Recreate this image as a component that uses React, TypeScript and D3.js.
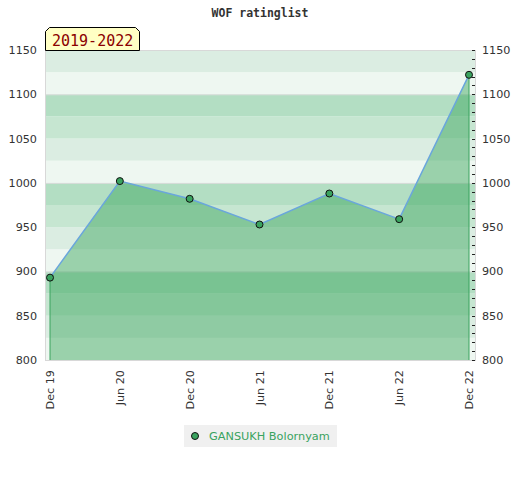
import * as d3 from "d3";
import * as React from "react";

const title = "WOF ratinglist";
const periodLabel = "2019-2022";
const playerName = "GANSUKH Bolornyam";

const periods = ["Dec 19", "Jun 20", "Dec 20", "Jun 21", "Dec 21", "Jun 22", "Dec 22"];
const ratings = [893, 1002, 982, 953, 988, 959, 1122];

const yTicks = [800, 850, 900, 950, 1000, 1050, 1100, 1150];
const bandStarts = d3.range(800, 1150, 25);
const minorTicks = d3.range(800, 1151, 10);

const bandColors = ["#eef7f1", "#dbede2", "#c6e6d1", "#b3dec3"];

const width = 520;
const height = 480;
const plotLeft = 45;
const plotRight = 476;
const plotTop = 50;
const plotBottom = 360;

const green = "#3aa35f";
const lineBlue = "#6aa6dc";
const labelFont = "'DejaVu Sans', sans-serif";
const monoFont = "'DejaVu Sans Mono', monospace";

export default function App() {
  const x = d3.scalePoint<string>().domain(periods).range([50, 469]);
  const y = d3.scaleLinear().domain([800, 1150]).range([plotBottom, plotTop]);

  const pts = periods.map((p, i) => ({ p, v: ratings[i] }));

  const area = d3
    .area<{ p: string; v: number }>()
    .x((d) => x(d.p)!)
    .y0(y(800))
    .y1((d) => y(d.v));
  const line = d3
    .line<{ p: string; v: number }>()
    .x((d) => x(d.p)!)
    .y((d) => y(d.v));

  const first = pts[0];
  const last = pts[pts.length - 1];

  return (
    <svg
      width={width}
      height={height}
      style={{ position: "absolute", left: 0, top: 0, background: "#fff" }}
    >
      {/* title */}
      <text
        x={260}
        y={17}
        textAnchor="middle"
        fontFamily={monoFont}
        fontWeight="bold"
        fontSize={11.5}
        fill="#333"
      >
        {title}
      </text>

      {/* background bands */}
      {bandStarts.map((b) => (
        <rect
          key={b}
          x={plotLeft}
          width={plotRight - plotLeft}
          y={y(b + 25)}
          height={y(b) - y(b + 25)}
          fill={bandColors[(b % 100) / 25]}
        />
      ))}
      {yTicks
        .filter((t) => t % 100 === 0 && t > 800 && t < 1150)
        .map((t) => (
          <line
            key={t}
            x1={plotLeft}
            x2={plotRight}
            y1={y(t) + 0.5}
            y2={y(t) + 0.5}
            stroke="#dcdcdc"
          />
        ))}
      <rect
        x={plotLeft + 0.5}
        y={plotTop + 0.5}
        width={plotRight - plotLeft - 1}
        height={plotBottom - plotTop}
        fill="none"
        stroke="#d8d8d8"
      />

      {/* filled area */}
      <path d={area(pts)!} fill="rgb(52,162,86)" fillOpacity={0.45} />

      {/* drop lines */}
      <line x1={x(first.p)} x2={x(first.p)} y1={y(first.v)} y2={y(800)} stroke={green} />
      <line x1={x(last.p)} x2={x(last.p)} y1={y(last.v)} y2={y(800)} stroke={green} />

      {/* minor ticks on right */}
      {minorTicks.map((t) => (
        <line
          key={t}
          x1={472}
          x2={475}
          y1={Math.round(y(t)) + 0.5}
          y2={Math.round(y(t)) + 0.5}
          stroke="#222"
        />
      ))}

      {/* line */}
      <path d={line(pts)!} fill="none" stroke={lineBlue} strokeWidth={1.5} />

      {/* markers */}
      {pts.map((d) => (
        <circle
          key={d.p}
          cx={x(d.p)}
          cy={y(d.v)}
          r={3.5}
          fill={green}
          stroke="#111"
          strokeWidth={1}
        />
      ))}

      {/* y axis labels */}
      {yTicks.map((t) => (
        <g key={t} fontFamily={labelFont} fontSize={11.2} fill="#333">
          <text x={37} y={y(t) + 4} textAnchor="end">
            {t}
          </text>
          <text x={482} y={y(t) + 4} textAnchor="start">
            {t}
          </text>
        </g>
      ))}

      {/* x axis labels */}
      {periods.map((p) => (
        <text
          key={p}
          transform={`translate(${x(p)! + 4},370) rotate(-90)`}
          textAnchor="end"
          fontFamily={labelFont}
          fontSize={11.2}
          fill="#333"
        >
          {p}
        </text>
      ))}

      {/* period label box */}
      <path
        d={`M45.5,50.5 L45.5,31.5 L49.5,27.5 L135.5,27.5 L139.5,31.5 L139.5,50.5 Z`}
        fill="#ffffc4"
        stroke="#000"
      />
      <text x={52} y={46} fontFamily={monoFont} fontSize={15} fill="#8b0000">
        {periodLabel}
      </text>

      {/* legend */}
      <rect x={184} y={425} width={153} height={22} fill="#f0f0f0" />
      <circle cx={195} cy={436} r={3.5} fill={green} stroke="#111" />
      <text x={209} y={440} fontFamily={labelFont} fontSize={11.3} fill={green}>
        {playerName}
      </text>
    </svg>
  );
}
